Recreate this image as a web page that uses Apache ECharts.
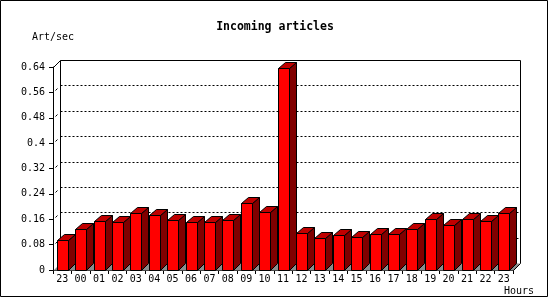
<!DOCTYPE html>
<html>
<head>
<meta charset="utf-8">
<script src="https://cdn.jsdelivr.net/npm/echarts@6/dist/echarts.min.js"></script>
<style>
html,body{margin:0;padding:0;background:#fff;}
#chart{width:550px;height:300px;}
</style>
</head>
<body>
<div id="chart"></div>
<script>
const titleText = 'Incoming articles';
const yAxisName = 'Art/sec';
const xAxisName = 'Hours';
const hours = ['23','00','01','02','03','04','05','06','07','08','09','10','11','12','13','14','15','16','17','18','19','20','21','22','23'];
const articlesPerSec = [0.094,0.128,0.154,0.151,0.180,0.173,0.157,0.151,0.151,0.157,0.211,0.183,0.638,0.117,0.101,0.110,0.104,0.113,0.113,0.129,0.161,0.142,0.161,0.154,0.180];
const yTicks = [0,0.08,0.16,0.24,0.32,0.4,0.48,0.56,0.64];
const yTickLabels = ['0','0.08','0.16','0.24','0.32','0.4','0.48','0.56','0.64'];

const FONT = '"DejaVu Sans Mono", "Liberation Mono", monospace';
const DX = 7, DY = 7, BAR_DY = 6;

function renderFrame(params, api) {
  const cs = params.coordSys;
  const x0 = Math.round(cs.x) + 0.5, x1 = Math.round(cs.x + cs.width) + 0.5;
  const yb = Math.round(cs.y + cs.height) + 0.5;
  const children = [];
  // floor
  children.push({type:'polygon', shape:{points:[[x0,yb],[x1,yb],[x1+DX,yb-DY],[x0+DX,yb-DY]]},
    style:{fill:'#8c8c8c', stroke:null}});
  children.push({type:'line', shape:{x1:x1, y1:yb, x2:x1+DX, y2:yb-DY}, style:{stroke:'#000', lineWidth:1}});
  // back gridlines
  yTicks.forEach(function (t, k) {
    const y = Math.round(api.coord([0, t])[1]) + 0.5;
    if (k === yTicks.length - 1) {
      children.push({type:'line', shape:{x1:x0, y1:y, x2:x0+DX, y2:y-DY}, style:{stroke:'#000', lineWidth:1}});
      children.push({type:'line', shape:{x1:x0+DX, y1:y-DY, x2:x1+DX, y2:y-DY}, style:{stroke:'#000', lineWidth:1}});
    } else if (k > 0) {
      children.push({type:'line', shape:{x1:x0+DX, y1:y-DY, x2:x1+DX, y2:y-DY}, style:{stroke:'#000', lineWidth:1, lineDash:[2,2]}});
      children.push({type:'line', shape:{x1:x0+2, y1:y-2, x2:x0+4, y2:y-4}, style:{stroke:'#000', lineWidth:1}});
    }
  });
  const ytop = Math.round(api.coord([0, yTicks[yTicks.length-1]])[1]) + 0.5 - DY;
  children.push({type:'line', shape:{x1:x0+DX, y1:ytop, x2:x0+DX, y2:yb-DY}, style:{stroke:'#000', lineWidth:1}});
  children.push({type:'line', shape:{x1:x1+DX, y1:ytop, x2:x1+DX, y2:yb-DY}, style:{stroke:'#000', lineWidth:1}});
  return {type:'group', children:children};
}

function renderBar(params, api) {
  const i = api.value(0), v = api.value(1);
  const base = api.coord([i, 0]);
  const top = api.coord([i, v]);
  const band = api.size([1, 0])[0];
  const w = Math.round(band * 0.6);
  const x0 = Math.round(base[0] - w / 2) + 0.5, x1 = x0 + w;
  const yb = Math.round(base[1]) + 0.5, yt = Math.round(top[1]) + 0.5;
  const st = {stroke:'#000', lineWidth:1};
  return {type:'group', children:[
    {type:'polygon', shape:{points:[[x1,yb],[x1,yt],[x1+DX,yt-BAR_DY],[x1+DX,yb-DY]]}, style:Object.assign({fill:'#800000'}, st)},
    {type:'polygon', shape:{points:[[x0,yt],[x0+DX,yt-BAR_DY],[x1+DX,yt-BAR_DY],[x1,yt]]}, style:Object.assign({fill:'#c00000'}, st)},
    {type:'rect', shape:{x:x0, y:yt, width:w, height:yb-yt}, style:Object.assign({fill:'#ff0000'}, st)}
  ]};
}

const chart = echarts.init(document.getElementById('chart'), null, {renderer:'canvas'});
chart.setOption({
  animation: false,
  backgroundColor: '#fff',
  title: {
    text: titleText, left: 'center', top: 21, padding: 0,
    textStyle: {fontFamily: FONT, fontSize: 11.5, fontWeight: 'bold', color: '#000'}
  },
  grid: {left: 53, right: 37, top: 67, bottom: 30, containLabel: false},
  xAxis: {
    type: 'category', data: hours, boundaryGap: true,
    axisLine: {show: true, lineStyle: {color: '#000', width: 1}},
    axisTick: {show: true, length: 4, interval: 0, lineStyle: {color: '#000'}},
    axisLabel: {interval: 0, margin: 4, color: '#000', fontFamily: FONT, fontSize: 10},
    splitLine: {show: false}
  },
  yAxis: {
    type: 'value', min: 0, max: 0.64, interval: 0.08,
    name: yAxisName, nameLocation: 'end', nameGap: 30,
    nameTextStyle: {fontFamily: FONT, fontSize: 10, color: '#000', align: 'center', verticalAlign: 'middle'},
    axisLine: {show: true, lineStyle: {color: '#000', width: 1}},
    axisTick: {show: true, length: 4, lineStyle: {color: '#000'}},
    axisLabel: {
      margin: 8, color: '#000', fontFamily: FONT, fontSize: 10,
      formatter: function (v) {
        let best = 0;
        yTicks.forEach(function (t, k) { if (Math.abs(t - v) < Math.abs(yTicks[best] - v)) best = k; });
        return yTickLabels[best];
      }
    },
    splitLine: {show: false}
  },
  graphic: [
    {type:'rect', silent:true, z:100, shape:{x:0.5, y:0.5, width:547, height:296}, style:{fill:null, stroke:'#000', lineWidth:1}},
    {type:'text', silent:true, x:504, y:291, style:{text:xAxisName, font:'10px ' + FONT, fill:'#000', textVerticalAlign:'middle', verticalAlign:'middle'}}
  ],
  series: [
    {type:'custom', z:1, silent:true, renderItem: renderFrame, data: [[0, 0]], clip:false},
    {type:'custom', z:2, silent:true, renderItem: renderBar, clip:false,
     data: articlesPerSec.map(function (v, i) { return [i, v]; })}
  ]
});
</script>
</body>
</html>
